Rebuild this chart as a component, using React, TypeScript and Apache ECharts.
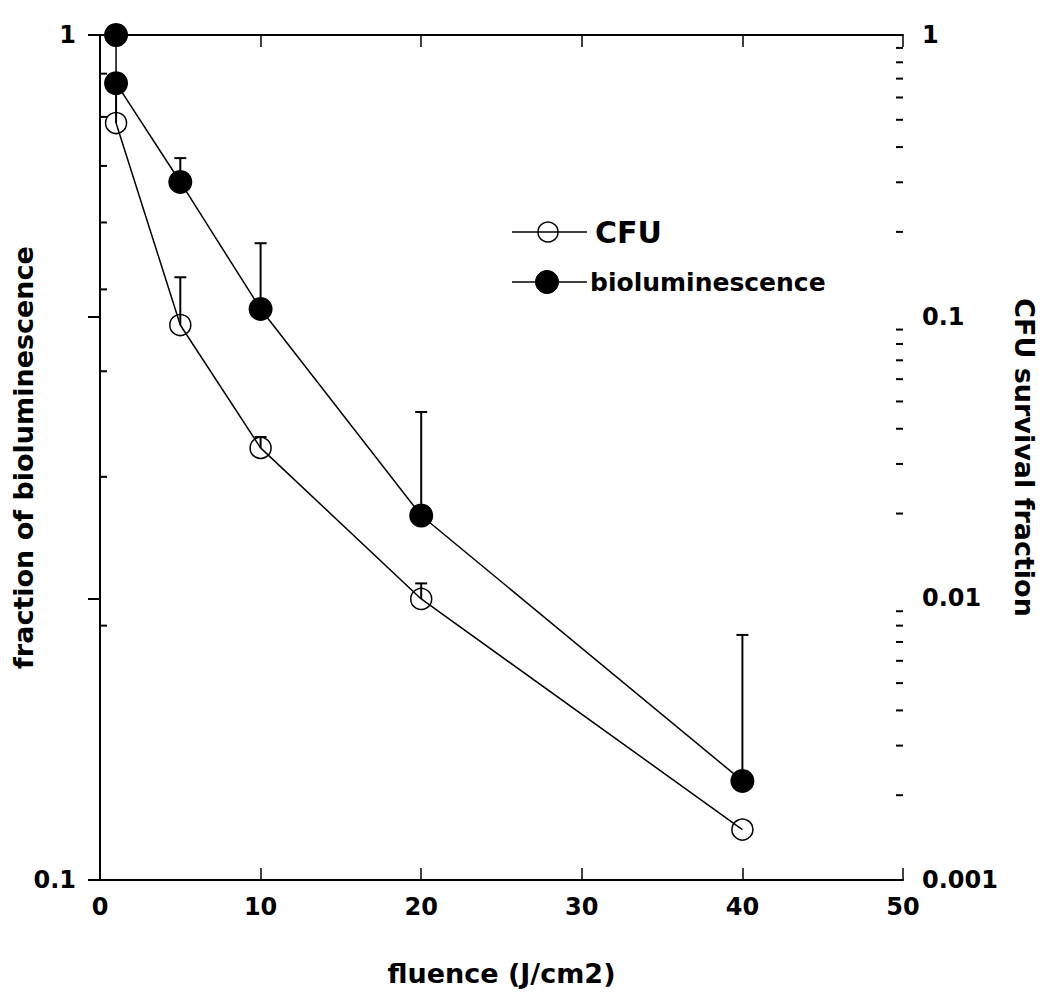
import React, { useEffect, useRef } from 'react';
import * as echarts from 'echarts';

// ---- data ----
const bioFluence = [1, 1, 5, 10, 20, 40];
const bioValues = [1.0, 0.877, 0.67, 0.474, 0.27, 0.131];
const bioErrTop = [null, null, 0.715, 0.567, 0.358, 0.195];

const cfuFluence = [1, 5, 10, 20, 40];
const cfuValues = [0.487, 0.0934, 0.0342, 0.00995, 0.00151];
const cfuErrTop = [0.675, 0.138, 0.0374, 0.0113, null];

const xTickLabels = ['0', '10', '20', '30', '40', '50'];
const leftTickLabels = ['0.1', '1'];
const rightTickLabels = ['0.001', '0.01', '0.1', '1'];
const leftMinorTicks = [0.2, 0.3, 0.4, 0.5, 0.6, 0.7, 0.8, 0.9];
const rightMinorTicks = [
  0.002, 0.003, 0.004, 0.005, 0.006, 0.007, 0.008, 0.009,
  0.02, 0.03, 0.04, 0.05, 0.06, 0.07, 0.08, 0.09,
  0.2, 0.3, 0.4, 0.5, 0.6, 0.7, 0.8, 0.9,
];

const FONT = 'DejaVu Sans';

function pickLabel(list: string[], v: number) {
  const s = list.find((t) => Math.abs(Math.log10(parseFloat(t)) - Math.log10(v)) < 1e-6);
  return s ?? '';
}

export default function App() {
  const ref = useRef<HTMLDivElement>(null);
  useEffect(() => {
    if (!ref.current) return;
    const chart = echarts.init(ref.current, undefined, { renderer: 'svg' });

    const labelStyle = { color: '#000', fontFamily: FONT, fontWeight: 'bold' as const, fontSize: 24 };
    const nameStyle = { color: '#000', fontFamily: FONT, fontWeight: 'bold' as const, fontSize: 27 };
    const axisLine = { show: true, lineStyle: { color: '#000', width: 2 } };

    const errSeries = (xs: number[], vals: number[], tops: (number | null)[], yIdx: number) => ({
      type: 'custom',
      yAxisIndex: yIdx,
      z: 1,
      silent: true,
      data: xs
        .map((x, i) => [x, vals[i], tops[i]])
        .filter((d) => d[2] != null),
      encode: { x: 0, y: 1 },
      renderItem: (params: any, api: any) => {
        const p0 = api.coord([api.value(0), api.value(1)]);
        const p1 = api.coord([api.value(0), api.value(2)]);
        return {
          type: 'group',
          children: [
            { type: 'line', shape: { x1: p0[0], y1: p0[1], x2: p1[0], y2: p1[1] }, style: { stroke: '#000', lineWidth: 2 } },
            { type: 'line', shape: { x1: p1[0] - 6, y1: p1[1], x2: p1[0] + 6, y2: p1[1] }, style: { stroke: '#000', lineWidth: 2 } },
          ],
        };
      },
    });

    const minorSeries = (vals: number[], yIdx: number, xVal: number, dir: number) => ({
      type: 'custom',
      yAxisIndex: yIdx,
      silent: true,
      data: vals.map((v) => [xVal, v]),
      encode: { x: 0, y: 1 },
      renderItem: (params: any, api: any) => {
        const p = api.coord([api.value(0), api.value(1)]);
        return {
          type: 'line',
          shape: { x1: p[0], y1: p[1], x2: p[0] + dir * 7, y2: p[1] },
          style: { stroke: '#000', lineWidth: 2 },
        };
      },
    });

    chart.setOption({
      animation: false,
      backgroundColor: '#fff',
      textStyle: { fontFamily: FONT },
      grid: { left: 100, right: 147, top: 35, bottom: 122, containLabel: false, outerBoundsMode: 'none' },
      xAxis: [
        {
          type: 'value',
          min: 0,
          max: 50,
          interval: 10,
          position: 'bottom',
          axisLine,
          axisTick: { show: true, inside: true, length: 12, lineStyle: { color: '#000', width: 1.5 } },
          axisLabel: {
            ...labelStyle,
            margin: 15,
            formatter: (v: number) => xTickLabels[Math.round(v / 10)] ?? '',
          },
          splitLine: { show: false },
          name: 'fluence (J/cm2)',
          nameLocation: 'middle',
          nameGap: 80,
          nameMoveOverlap: false,
          nameTextStyle: nameStyle,
        },
        {
          type: 'value',
          min: 0,
          max: 50,
          interval: 10,
          position: 'top',
          axisLine,
          axisTick: { show: true, inside: true, length: 12, lineStyle: { color: '#000', width: 1.5 } },
          axisLabel: { show: false },
          splitLine: { show: false },
        },
      ],
      yAxis: [
        {
          type: 'log',
          logBase: 10,
          min: 0.1,
          max: 1,
          splitNumber: 1,
          position: 'left',
          axisLine,
          axisTick: { show: true, inside: true, length: 12, lineStyle: { color: '#000', width: 2 } },
          axisLabel: { ...labelStyle, margin: 24, formatter: (v: number) => pickLabel(leftTickLabels, v) },
          splitLine: { show: false },
          name: 'fraction of bioluminescence',
          nameLocation: 'middle',
          nameRotate: 90,
          nameGap: 63,
          nameMoveOverlap: false,
          nameTextStyle: nameStyle,
        },
        {
          type: 'log',
          logBase: 10,
          min: 0.001,
          max: 1,
          splitNumber: 3,
          position: 'right',
          axisLine,
          axisTick: { show: true, inside: true, length: 12, lineStyle: { color: '#000', width: 2 } },
          axisLabel: { ...labelStyle, margin: 19, formatter: (v: number) => pickLabel(rightTickLabels, v) },
          splitLine: { show: false },
          name: 'CFU survival fraction',
          nameLocation: 'middle',
          nameRotate: -90,
          nameGap: 108,
          nameMoveOverlap: false,
          nameTextStyle: nameStyle,
        },
      ],
      series: [
        minorSeries(leftMinorTicks, 0, 0, 1),
        minorSeries(rightMinorTicks, 1, 50, -1),
        errSeries(bioFluence, bioValues, bioErrTop, 0),
        errSeries(cfuFluence, cfuValues, cfuErrTop, 1),
        {
          name: 'bioluminescence',
          type: 'line',
          yAxisIndex: 0,
          z: 3,
          data: bioFluence.map((x, i) => [x, bioValues[i]]),
          symbol: 'circle',
          symbolSize: 24,
          itemStyle: { color: '#000' },
          lineStyle: { color: '#000', width: 1.5 },
        },
        {
          name: 'CFU',
          type: 'line',
          yAxisIndex: 1,
          z: 3,
          data: cfuFluence.map((x, i) => [x, cfuValues[i]]),
          symbol: 'circle',
          symbolSize: 21,
          itemStyle: { color: 'rgba(0,0,0,0)', borderColor: '#000', borderWidth: 1.5 },
          lineStyle: { color: '#000', width: 1.5 },
        },
      ],
      graphic: [
        { type: 'line', shape: { x1: 512, y1: 232, x2: 587, y2: 232 }, style: { stroke: '#000', lineWidth: 1.5 } },
        { type: 'circle', shape: { cx: 548, cy: 232, r: 10 }, style: { stroke: '#000', fill: 'rgba(0,0,0,0)', lineWidth: 1.5 } },
        {
          type: 'text',
          x: 595,
          y: 232,
          style: { text: 'CFU', fill: '#000', font: `bold 30px "${FONT}"`, verticalAlign: 'middle', align: 'left' },
        },
        { type: 'line', shape: { x1: 512, y1: 282, x2: 587, y2: 282 }, style: { stroke: '#000', lineWidth: 1.5 } },
        { type: 'circle', shape: { cx: 547, cy: 282, r: 11.5 }, style: { stroke: '#000', fill: '#000', lineWidth: 1 } },
        {
          type: 'text',
          x: 590,
          y: 282,
          style: { text: 'bioluminescence', fill: '#000', font: `bold 25px "${FONT}"`, verticalAlign: 'middle', align: 'left' },
        },
      ],
    });
    return () => chart.dispose();
  }, []);
  return (
    <div
      ref={ref}
      style={{ position: 'fixed', left: 0, top: 0, width: 1050, height: 1002, background: '#fff' }}
    />
  );
}
